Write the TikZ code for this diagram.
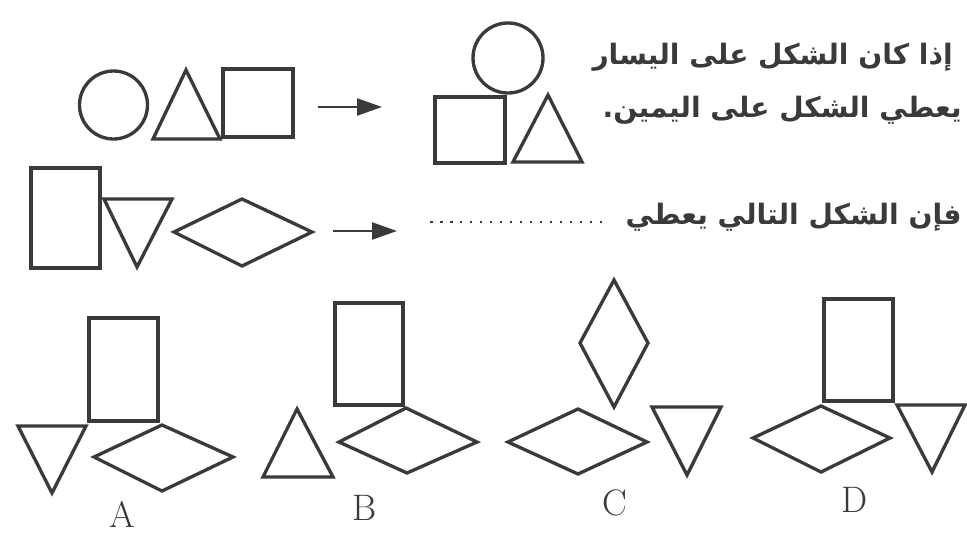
\documentclass[tikz,border=0pt]{standalone}
\usepackage{fontspec}
\usepackage{tikz}
\usetikzlibrary{arrows.meta}
\newfontfamily\arabicfont[Script=Arabic]{DejaVu Sans}
\TeXXeTstate=1
\definecolor{ink}{HTML}{3A3A3A}

\begin{document}
\begin{tikzpicture}[x=0.02cm, y=-0.02cm,
			fig/.style={draw=ink, line width=1.9pt},
			arrow/.style={-{Triangle[length=0.5cm, width=0.34cm]}, draw=ink, line width=1.3pt},
			txt/.style={font=\arabicfont\bfseries\fontsize{16}{18}\selectfont, text=ink, anchor=east, inner sep=0pt},
			lbl/.style={font=\fontsize{21}{24}\selectfont, text=ink, inner sep=0pt}
			]
			\useasboundingbox (0,0) rectangle (967,534);
			% given pair
			\draw[fig] (113.5,105) circle (34);
			\draw[fig] (153,139) -- (186,70) -- (220,139) -- cycle;
			\draw[fig] (223,69) rectangle (293,137);
			\coordinate (a1s) at (318,107);
			\coordinate (a1e) at (382,107);
			\draw[arrow] (a1s) -- (a1e);
			\draw[fig] (508,58) circle (35);
			\draw[fig] (435,97) rectangle (505,163);
			\draw[fig] (513,162) -- (548,95) -- (582,162) -- cycle;
			\node[txt] (line1) at (953,57) {\beginR إذا كان الشكل على اليسار\endR};
			\node[txt] (line2) at (962,110) {\beginR يعطي الشكل على اليمين.\endR};
			% question
			\draw[fig] (31,168) rectangle (100,268);
			\draw[fig] (104,199) -- (172,199) -- (137,267) -- cycle;
			\draw[fig] (174,232) -- (242,199) -- (312,232) -- (242,266) -- cycle;
			\coordinate (a2s) at (333,231);
			\coordinate (a2e) at (397,231);
			\draw[arrow] (a2s) -- (a2e);
			\coordinate (dots1) at (430,222);
			\coordinate (dots2) at (603,222);
			\draw[ink, line width=1.5pt, dash pattern=on 0.05cm off 0.15cm] (dots1) -- (dots2);
			\node[txt] (line3) at (962,217) {\beginR فإن الشكل التالي يعطي\endR};
			% option A
			\draw[fig] (89,318) rectangle (158,421);
			\draw[fig] (18,426) -- (86,426) -- (52,493) -- cycle;
			\draw[fig] (94,457) -- (162,425) -- (233,457) -- (162,491) -- cycle;
			\node[lbl] (optA) at (122,514) {A};
			% option B
			\draw[fig] (335,303) rectangle (403,405);
			\draw[fig] (263,477) -- (297,409) -- (333,477) -- cycle;
			\draw[fig] (339,442) -- (406,408) -- (477,442) -- (407,473) -- cycle;
			\node[lbl] (optB) at (365,508) {B};
			% option C
			\draw[fig] (614,280) -- (648,343) -- (614,407) -- (580,343) -- cycle;
			\draw[fig] (508,442) -- (578,409) -- (647,442) -- (578,474) -- cycle;
			\draw[fig] (652,407) -- (721,407) -- (687,475) -- cycle;
			\node[lbl] (optC) at (615,503) {C};
			% option D
			\draw[fig] (824,299) rectangle (893,401);
			\draw[fig] (753,438) -- (821,406) -- (890,438) -- (821,472) -- cycle;
			\draw[fig] (897,405) -- (965,405) -- (932,472) -- cycle;
			\node[lbl] (optD) at (855,500) {D};
		\end{tikzpicture}
\end{document}
